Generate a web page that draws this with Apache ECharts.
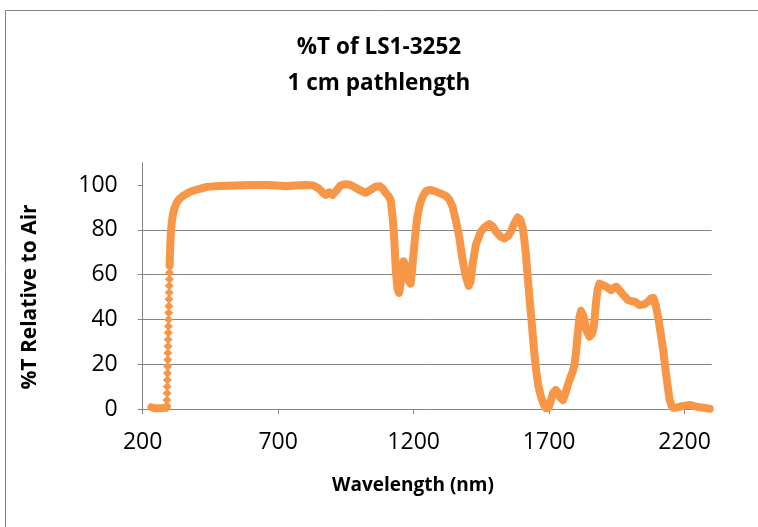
<!DOCTYPE html>
<html><head><meta charset="utf-8">
<script src="https://cdn.jsdelivr.net/npm/echarts@6/dist/echarts.min.js"></script>
<style>html,body{margin:0;padding:0;background:#fff}#c{width:758px;height:527px}</style>
</head><body><div id="c"></div>
<script>
// Flat, near-zero segment before the absorption edge
const flatWl = [232, 236, 245, 260, 275, 285, 288];
const flatT  = [0.8, 0.4, 0.3, 0.3, 0.4, 0.5, 0.8];
// Steep UV edge (individual diamond markers visible)
const riseWl = [289, 289.5, 290, 290.5, 291, 291.5, 292, 292.5, 293, 293.5, 294, 294.5, 295, 295.5, 296, 296.5, 297, 297.5, 298, 298.5, 299];
const riseT  = [1.5, 4, 7, 10, 13, 16, 19, 22, 25, 28, 31, 34, 37, 40, 43, 46, 49, 52, 55, 58, 61];
// Main transmission curve
const mainWl = [299.5, 300, 301, 302, 303, 305, 308, 312, 318, 325, 335, 350, 375, 400, 437, 480, 540, 600, 660, 700, 727, 760, 800, 830, 850, 865, 876, 888, 901, 915, 930, 945, 960, 980, 1000, 1023, 1040, 1060, 1075, 1085, 1097, 1108, 1116, 1122, 1128, 1134, 1140, 1146, 1152, 1158, 1163, 1167, 1172, 1177, 1183, 1189, 1195, 1202, 1208, 1214, 1222, 1233, 1245, 1258, 1270, 1285, 1300, 1319, 1332, 1344, 1356, 1368, 1380, 1393, 1403, 1410, 1418, 1430, 1448, 1465, 1479, 1492, 1504, 1520, 1535, 1550, 1560, 1572, 1584, 1594, 1603, 1609, 1615, 1621, 1627, 1634, 1640, 1646, 1652, 1660, 1670, 1680, 1689, 1697, 1705, 1714, 1724, 1732, 1742, 1751, 1760, 1769, 1780, 1787, 1794, 1800, 1806, 1812, 1818, 1822, 1828, 1837, 1849, 1858, 1864, 1869, 1874, 1880, 1886, 1898, 1911, 1920, 1929, 1940, 1948, 1958, 1973, 1991, 2003, 2016, 2034, 2045, 2053, 2066, 2077, 2085, 2094, 2102, 2112, 2121, 2127, 2133, 2140, 2145, 2152, 2158, 2168, 2182, 2200, 2219, 2238, 2256, 2275, 2293];
const mainT  = [64, 66, 70, 74, 77, 80.5, 84, 87, 90, 92, 93.8, 95.3, 97, 98, 99.2, 99.6, 99.8, 100, 100, 99.8, 99.5, 99.8, 100, 99.8, 98.5, 96.5, 95.6, 96.8, 95.6, 97.5, 99.8, 100.4, 100.3, 99.2, 97.8, 96.6, 97.8, 99.3, 99.5, 98.5, 96.5, 95, 93, 86, 77, 62, 54, 51.8, 56, 63.5, 66, 66.5, 63, 60.6, 57, 56, 63, 72.5, 80, 86, 91, 94.8, 97.2, 97.8, 97.6, 97, 96.2, 95.2, 93.5, 90.3, 84, 77, 67, 59, 55, 57, 65, 73.5, 79.2, 81.5, 82.6, 81.5, 79.2, 77, 76.2, 77.5, 79.5, 83, 85.5, 84.5, 80.7, 75, 68, 59, 50, 41, 32.3, 24, 17.4, 10.5, 5.5, 2, 0.3, 0.5, 3, 7, 8.5, 7.5, 5, 4, 7, 10.7, 14.5, 16.7, 20, 26.3, 34, 41.2, 43.8, 44, 41, 35.3, 32.3, 33.5, 36, 42, 48.7, 54, 56, 55.3, 54.6, 53.8, 53.1, 54.2, 54.6, 53.3, 51, 48.7, 48.2, 47.9, 46.4, 46.6, 46.9, 48, 49.5, 49.6, 46, 41.2, 33.5, 26.3, 20, 14.4, 8, 4, 1.5, 0.5, 0.6, 1, 1.5, 1.8, 1.2, 0.8, 0.5, 0.1];
const xTicks = [200, 700, 1200, 1700, 2200];
const yTicks = [0, 20, 40, 60, 80, 100];

const ORANGE = '#F79646';
const GRAY = '#868686';
const FONT = '"Open Sans", "Liberation Sans", sans-serif';
const pairs = (a, b) => a.map((w, i) => [w, b[i]]);

const chart = echarts.init(document.getElementById('c'), null, {renderer: 'canvas'});
chart.setOption({
  animation: false,
  backgroundColor: '#fff',
  title: {
    text: '%T of LS1-3252\n1 cm pathlength',
    left: 'center', top: 30, padding: [0, 0, 0, 12],
    textStyle: {fontFamily: FONT, fontWeight: 'bold', fontSize: 22.5, lineHeight: 36, color: '#000'}
  },
  grid: {left: 142.7, right: 46.3, top: 162.7, bottom: 118, containLabel: false},
  xAxis: {
    type: 'value', min: 200, max: 2300,
    axisLine: {show: true, lineStyle: {color: GRAY, width: 1}},
    axisTick: {show: true, length: 5, customValues: xTicks, lineStyle: {color: GRAY}},
    axisLabel: {customValues: xTicks, formatter: v => String(v), margin: 22, color: '#000', fontFamily: FONT, fontSize: 23},
    splitLine: {show: false}
  },
  yAxis: {
    type: 'value', min: 0, max: 110, interval: 20,
    axisLine: {show: true, lineStyle: {color: GRAY, width: 1}},
    axisTick: {show: true, length: 5, customValues: yTicks, lineStyle: {color: GRAY}},
    axisLabel: {customValues: yTicks, formatter: v => String(v), margin: 25, color: '#000', fontFamily: FONT, fontSize: 23},
    splitLine: {show: true, showMinLine: false, showMaxLine: false, lineStyle: {color: GRAY, width: 1}}
  },
  graphic: [
    {type: 'rect', shape: {x: 5.5, y: 10.5, width: 900, height: 700}, style: {fill: null, stroke: GRAY, lineWidth: 1}, silent: true},
    {type: 'text', x: 30, y: 297, rotation: Math.PI / 2,
     style: {text: '%T Relative to Air', fontFamily: FONT, fontWeight: 'bold', fontSize: 21, fill: '#000', align: 'center', verticalAlign: 'middle'}},
    {type: 'text', x: 413, y: 486,
     style: {text: 'Wavelength (nm)', fontFamily: FONT, fontWeight: 'bold', fontSize: 19, fill: '#000', align: 'center', verticalAlign: 'middle'}}
  ],
  series: [
    {type: 'line', data: pairs(flatWl, flatT), showSymbol: false, lineStyle: {color: ORANGE, width: 8, cap: 'round', join: 'round'}, z: 3},
    {type: 'scatter', data: pairs(riseWl, riseT), symbol: 'diamond', symbolSize: 9, itemStyle: {color: ORANGE, opacity: 1}, z: 3},
    {type: 'line', data: pairs(mainWl, mainT), showSymbol: false, lineStyle: {color: ORANGE, width: 8, cap: 'round', join: 'round'}, z: 3}
  ]
});
</script>
</body></html>
